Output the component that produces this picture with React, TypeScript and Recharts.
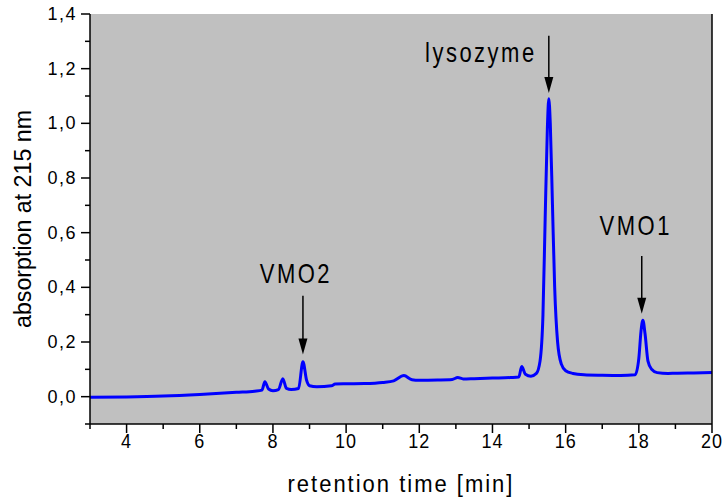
import React from 'react';
import { LineChart, Line, XAxis, YAxis, CartesianGrid, ReferenceLine } from 'recharts';

// retention time [min] and absorbance
const time = [
  3.0, 4.0, 5.0, 6.0, 7.0, 7.5, 7.7, 7.78, 7.88, 8.0, 8.15, 8.27, 8.37, 8.5, 8.7, 8.82, 8.92, 9.0, 9.2, 9.6,
  9.7, 10.0, 10.5, 11.0, 11.3, 11.58, 11.8, 12.0, 12.5, 12.9, 13.05, 13.2, 13.5, 14.0, 14.5, 14.72, 14.8, 14.9,
  15.05, 15.2, 15.3, 15.38, 15.44, 15.5, 15.54, 15.58, 15.64, 15.7, 15.78, 15.88, 16.0, 16.2, 16.5, 17.0, 17.5,
  17.9, 18.0, 18.06, 18.11, 18.17, 18.25, 18.35, 18.5, 18.8, 19.0, 19.5, 20.0,
];
const absorbance = [
  -0.002, -0.001, 0.002, 0.008, 0.016, 0.02, 0.024, 0.055, 0.028, 0.022, 0.026, 0.066, 0.03, 0.026, 0.03, 0.128,
  0.06, 0.04, 0.036, 0.04, 0.046, 0.047, 0.048, 0.052, 0.058, 0.077, 0.062, 0.06, 0.061, 0.063, 0.07, 0.065,
  0.066, 0.068, 0.07, 0.072, 0.11, 0.082, 0.075, 0.085, 0.13, 0.3, 0.65, 0.98, 1.09, 1.0, 0.7, 0.4, 0.2, 0.12,
  0.095, 0.085, 0.08, 0.078, 0.077, 0.08, 0.14, 0.24, 0.28, 0.23, 0.13, 0.1, 0.088, 0.085, 0.086, 0.087, 0.088,
];

const xMajorTicks = [4, 6, 8, 10, 12, 14, 16, 18, 20];
const xMinorTicks = [3, 5, 7, 9, 11, 13, 15, 17, 19];
const yMajorTicks = [0, 0.2, 0.4, 0.6, 0.8, 1.0, 1.2, 1.4];
const yMinorTicks = [-0.1, 0.1, 0.3, 0.5, 0.7, 0.9, 1.1, 1.3];

// peak labels: arrow from yTop down to yTip at retention time x
const peakLabels = ['lysozyme', 'VMO2', 'VMO1'];
const peakX = [15.54, 8.82, 18.08];
const peakArrowTop = [1.32, 0.369, 0.515];
const peakArrowTip = [1.111, 0.154, 0.303];
const labelOffset = [
  { dx: -68, dy: 26 },
  { dx: -7, dy: -13 },
  { dx: -6, dy: -21 },
];

const data = time.map((t, i) => ({ t, a: absorbance[i] }));
const xTicks = [...xMajorTicks, ...xMinorTicks].sort((a, b) => a - b);
const yTicks = [...yMajorTicks, ...yMinorTicks].sort((a, b) => a - b);

const FONT = '"Liberation Sans", Arial, sans-serif';
const isIn = (list: number[], v: number) => list.some((m) => Math.abs(m - v) < 1e-6);
// the original lettering is a bit taller than plain Arial
const stretch = (y: number, k: number) => `translate(0 ${y}) scale(1 ${k}) translate(0 ${-y})`;

const XTick = (props: any) => {
  const { x, y, payload } = props;
  const major = isIn(xMajorTicks, payload.value);
  return (
    <g>
      <line x1={x} x2={x} y1={y} y2={y + (major ? 9 : 5)} stroke="#000" strokeWidth={1.5} />
      {major && (
        <text x={x} y={y + 24} transform={stretch(y + 24, 1.08)} textAnchor="middle" fontSize={18} fontFamily={FONT} letterSpacing={1} fill="#000">
          {payload.value}
        </text>
      )}
    </g>
  );
};

const YTick = (props: any) => {
  const { x, y, payload } = props;
  const major = isIn(yMajorTicks, payload.value);
  return (
    <g>
      <line x1={x - (major ? 9 : 5)} x2={x} y1={y} y2={y} stroke="#000" strokeWidth={1.5} />
      {major && (
        <text x={x - 13} y={y + 6} textAnchor="end" fontSize={18} fontFamily={FONT} letterSpacing={1.5} fill="#000">
          {payload.value.toFixed(1).replace('.', ',')}
        </text>
      )}
    </g>
  );
};

const RightTick = (props: any) => {
  const { x, y } = props;
  return <line x1={x} x2={x + 3} y1={y} y2={y} stroke="#000" strokeWidth={1.5} />;
};

const arrowShape = (i: number) => (props: any) => {
  const { x1, y1, y2 } = props;
  const off = labelOffset[i];
  const ty = y1 + off.dy;
  return (
    <g>
      <line x1={x1} x2={x1} y1={y1} y2={y2 - 14} stroke="#000" strokeWidth={1.5} />
      <polygon points={`${x1 - 4.5},${y2 - 16} ${x1 + 4.5},${y2 - 16} ${x1},${y2}`} fill="#000" />
      <text x={x1 + off.dx} y={ty} transform={stretch(ty, 1.22)} textAnchor="middle" fontSize={22} fontFamily={FONT} letterSpacing={2.5} fill="#000">
        {peakLabels[i]}
      </text>
    </g>
  );
};

export default function App() {
  return (
    <div style={{ position: 'absolute', left: 0, top: 0, background: '#fff' }}>
      <LineChart width={724} height={500} data={data} margin={{ top: 14, right: 2, left: 0, bottom: 0 }}>
        <CartesianGrid fill="#c0c0c0" horizontal={false} vertical={false} />
        <XAxis
          dataKey="t"
          type="number"
          domain={[3, 20]}
          ticks={xTicks}
          interval={0}
          height={76}
          tickSize={0}
          tickMargin={0}
          tickLine={false}
          tick={XTick}
          axisLine={{ stroke: '#000', strokeWidth: 1.5 }}
          label={(p: any) => {
            const vb = p.viewBox;
            const ty = vb.y + 68;
            return (
              <text x={vb.x + vb.width / 2} y={ty} transform={stretch(ty, 1.1)} textAnchor="middle" fontSize={22} fontFamily={FONT} letterSpacing={2} fill="#000">
                retention time [min]
              </text>
            );
          }}
        />
        <XAxis xAxisId="top" orientation="top" type="number" domain={[3, 20]} height={0} tick={false} tickLine={false} axisLine={{ stroke: '#000', strokeWidth: 1.5 }} />
        <YAxis
          type="number"
          domain={[-0.1, 1.4]}
          ticks={yTicks}
          interval={0}
          width={90}
          tickSize={0}
          tickMargin={0}
          tickLine={false}
          tick={YTick}
          axisLine={{ stroke: '#000', strokeWidth: 1.5 }}
          label={(p: any) => {
            const vb = p.viewBox;
            const cy = vb.y + vb.height / 2;
            return (
              <text x={25} y={cy} transform={`rotate(-90 25 ${cy})`} textAnchor="middle" dominantBaseline="middle" fontSize={23} fontFamily={FONT} textLength={218} lengthAdjust="spacingAndGlyphs" fill="#000">
                absorption at 215 nm
              </text>
            );
          }}
        />
        <YAxis
          yAxisId="right"
          orientation="right"
          type="number"
          domain={[-0.1, 1.4]}
          ticks={yTicks}
          interval={0}
          width={10}
          tickSize={0}
          tickMargin={0}
          tickLine={false}
          tick={RightTick}
          axisLine={{ stroke: '#000', strokeWidth: 1.5 }}
        />
        <Line type="monotone" dataKey="a" stroke="#0000ff" strokeWidth={3} dot={false} isAnimationActive={false} />
        {peakLabels.map((name, i) => (
          <ReferenceLine
            key={name}
            segment={[
              { x: peakX[i], y: peakArrowTop[i] },
              { x: peakX[i], y: peakArrowTip[i] },
            ]}
            shape={arrowShape(i)}
          />
        ))}
      </LineChart>
    </div>
  );
}
